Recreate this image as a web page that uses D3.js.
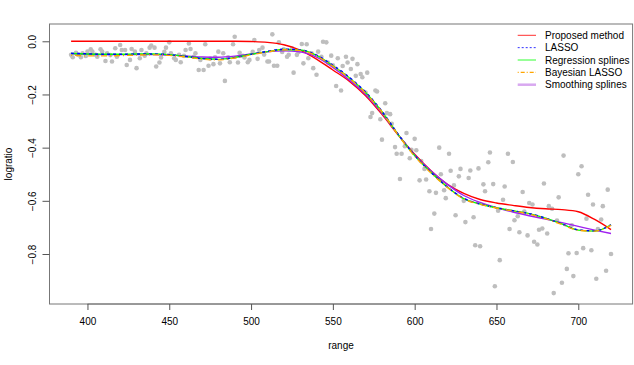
<!DOCTYPE html>
<html>
<head>
<meta charset="utf-8">
<script src="https://cdn.jsdelivr.net/npm/d3@7"></script>
<style>
  html, body { margin: 0; padding: 0; background: #fff; }
  svg { display: block; }
  text { font-family: "Liberation Sans", Arial, Helvetica, sans-serif; fill: #000; }
</style>
</head>
<body>
<svg id="chart" width="634" height="365"></svg>
<script>
// ---- data ----
const rangeVals = [390,391,393,394,396,397,399,400,402,403,405,406,408,409,411,412,414,415,417,418,
420,421,423,424,426,427,429,430,432,433,435,436,438,439,441,442,444,445,447,448,
450,451,453,454,456,457,459,460,462,463,465,466,468,469,471,472,474,475,477,478,
480,481,483,484,486,487,489,490,492,493,495,496,498,499,501,502,504,505,507,508,
510,511,513,514,516,517,519,520,522,523,525,526,528,529,531,532,534,535,537,538,
540,541,543,544,546,547,549,550,552,553,555,556,558,559,561,562,564,565,567,568,
570,571,573,574,576,577,579,580,582,583,585,586,588,589,591,592,594,595,597,598,
600,601,603,604,606,607,609,610,612,613,615,616,618,619,621,622,624,625,627,628,
630,631,633,634,636,637,639,640,642,643,645,646,648,649,651,652,654,655,657,658,
660,661,663,664,666,667,669,670,672,673,675,676,678,679,681,682,684,685,687,688,
690,691,693,694,696,697,699,700,702,703,705,706,708,709,711,712,714,715,717,718,720];
const logratioVals = [-0.051,-0.060,-0.043,-0.050,-0.060,-0.045,-0.055,-0.039,-0.030,-0.039,-0.051,-0.058,-0.030,-0.039,-0.074,-0.045,-0.052,-0.076,-0.026,-0.058,
-0.014,-0.033,-0.033,-0.089,-0.070,-0.029,-0.039,-0.101,-0.064,-0.033,-0.054,-0.045,-0.024,-0.016,-0.024,-0.095,-0.080,-0.061,-0.040,-0.024,
-0.004,-0.045,-0.064,-0.070,-0.051,-0.079,-0.055,-0.033,-0.008,-0.029,-0.058,-0.045,-0.108,-0.070,-0.108,-0.011,-0.092,-0.065,-0.086,-0.060,
-0.039,-0.083,-0.045,-0.149,-0.060,-0.079,-0.011,0.017,-0.080,-0.043,-0.055,-0.061,-0.079,-0.070,-0.040,0.005,-0.066,-0.033,-0.024,-0.050,
-0.076,-0.076,0.026,-0.092,-0.092,-0.004,-0.040,-0.030,-0.058,-0.051,-0.026,-0.118,-0.051,-0.040,-0.010,-0.083,-0.011,-0.064,-0.045,-0.101,
-0.126,-0.039,-0.058,-0.002,-0.004,-0.080,-0.054,-0.090,-0.168,-0.064,-0.185,-0.093,-0.058,-0.080,-0.104,-0.066,-0.130,-0.086,-0.123,-0.135,
-0.193,-0.118,-0.285,-0.270,-0.185,-0.189,-0.293,-0.370,-0.233,-0.270,-0.274,-0.310,-0.398,-0.423,-0.518,-0.423,-0.395,-0.345,-0.440,-0.408,
-0.367,-0.410,-0.523,-0.450,-0.480,-0.520,-0.564,-0.706,-0.648,-0.570,-0.400,-0.500,-0.560,-0.590,-0.423,-0.487,-0.542,-0.654,-0.508,-0.480,
-0.600,-0.680,-0.514,-0.486,-0.662,-0.767,-0.478,-0.771,-0.538,-0.564,-0.455,-0.418,-0.537,-0.921,-0.637,-0.823,-0.596,-0.546,-0.423,-0.706,
-0.454,-0.673,-0.658,-0.718,-0.567,-0.640,-0.730,-0.608,-0.614,-0.754,-0.764,-0.709,-0.704,-0.535,-0.723,-0.620,-0.630,-0.947,-0.674,-0.587,
-0.908,-0.430,-0.856,-0.797,-0.692,-0.883,-0.796,-0.500,-0.470,-0.778,-0.667,-0.577,-0.786,-0.614,-0.893,-0.706,-0.670,-0.620,-0.863,-0.558,-0.800];

// fitted curves, read at every 10 units of range
const fitRange = [390,400,410,420,430,440,450,460,470,480,490,500,510,520,530,540,550,560,570,580,590,600,610,620,630,640,650,660,670,680,690,700,710,720];
const proposedFit = [0,0,0,0,0,0,0,0,0,0,0,-0.001,-0.004,-0.013,-0.033,-0.067,-0.108,-0.150,-0.205,-0.275,-0.353,-0.425,-0.487,-0.538,-0.572,-0.595,-0.608,-0.617,-0.625,-0.630,-0.633,-0.641,-0.670,-0.708];
const lassoFit = [-0.045,-0.047,-0.049,-0.049,-0.048,-0.048,-0.050,-0.057,-0.065,-0.068,-0.061,-0.049,-0.038,-0.030,-0.032,-0.052,-0.090,-0.135,-0.191,-0.263,-0.350,-0.429,-0.493,-0.548,-0.591,-0.612,-0.626,-0.637,-0.648,-0.665,-0.687,-0.709,-0.713,-0.690];
const regSplineFit = [-0.046,-0.048,-0.049,-0.049,-0.048,-0.048,-0.050,-0.057,-0.065,-0.068,-0.061,-0.049,-0.039,-0.031,-0.033,-0.053,-0.092,-0.137,-0.193,-0.265,-0.352,-0.430,-0.493,-0.548,-0.592,-0.612,-0.626,-0.637,-0.648,-0.665,-0.687,-0.710,-0.714,-0.690];
const bayesLassoFit = [-0.052,-0.055,-0.055,-0.054,-0.052,-0.051,-0.053,-0.059,-0.067,-0.070,-0.063,-0.051,-0.040,-0.032,-0.034,-0.055,-0.094,-0.139,-0.195,-0.266,-0.353,-0.432,-0.495,-0.550,-0.593,-0.613,-0.627,-0.638,-0.650,-0.667,-0.689,-0.711,-0.714,-0.692];
const smoothSplineFit = [-0.047,-0.049,-0.050,-0.050,-0.050,-0.050,-0.052,-0.055,-0.059,-0.060,-0.056,-0.048,-0.040,-0.036,-0.040,-0.060,-0.098,-0.145,-0.200,-0.270,-0.352,-0.428,-0.488,-0.538,-0.580,-0.606,-0.626,-0.642,-0.656,-0.669,-0.682,-0.696,-0.710,-0.723];

const xTicks = [400,450,500,550,600,650,700];
const yTicks = [0.0,-0.2,-0.4,-0.6,-0.8];
const seriesNames = ["Proposed method","LASSO","Regression splines","Bayesian LASSO","Smoothing splines"];

// ---- drawing ----
const svg = d3.select("#chart");
const x = d3.scaleLinear().domain([376.8, 733.2]).range([49.5, 632.6]);
const y = d3.scaleLinear().domain([-0.988, 0.065]).range([304, 24]);

// points
svg.append("g").selectAll("circle")
  .data(rangeVals.map((r,i)=>[r, logratioVals[i]]))
  .join("circle")
  .attr("cx", d=>x(d[0])).attr("cy", d=>y(d[1]))
  .attr("r", 2.3).attr("fill", "#bebebe");

const styles = [
  {data: proposedFit,    color: "#ff0000", dash: null,      w: 1.4},
  {data: smoothSplineFit,color: "#a020f0", dash: null,      w: 1.4},
  {data: regSplineFit,   color: "#00ff00", dash: null,      w: 1.4},
  {data: lassoFit,       color: "#0000ff", dash: "3,3",     w: 1.4},
  {data: bayesLassoFit,  color: "#ffa500", dash: "1,3,6,3", w: 1.4}
];
const line = d3.line().x(d=>x(d[0])).y(d=>y(d[1])).curve(d3.curveMonotoneX);
styles.forEach(s => {
  svg.append("path")
    .attr("d", line(fitRange.map((r,i)=>[r, s.data[i]])))
    .attr("fill", "none").attr("stroke", s.color)
    .attr("stroke-width", s.w)
    .attr("stroke-dasharray", s.dash);
});

// box
svg.append("rect").attr("x", 49.5).attr("y", 24).attr("width", 632.6-49.5).attr("height", 280)
  .attr("fill", "none").attr("stroke", "#777").attr("stroke-width", 1);

// axes
const xAxis = d3.axisBottom(x).tickValues(xTicks).tickSize(6).tickPadding(8).tickFormat(d3.format("d"));
const gx = svg.append("g").attr("transform", "translate(0,304)").call(xAxis);
gx.select(".domain").attr("d", `M${x(400)},0H${x(700)}`).attr("stroke", "#777");
gx.selectAll(".tick line").attr("stroke", "#555");
gx.selectAll("text").attr("font-size", 10).attr("font-family", "Liberation Sans, Arial, sans-serif").attr("fill", "#000");

const yAxis = d3.axisLeft(y).tickValues(yTicks).tickSize(7).tickFormat(d3.format(".1f"));
const gy = svg.append("g").attr("transform", "translate(49.5,0)").call(yAxis);
gy.select(".domain").attr("d", `M0,${y(0)}V${y(-0.8)}`).attr("stroke", "#777");
gy.selectAll(".tick line").attr("stroke", "#555");
gy.selectAll(".tick text")
  .attr("x", null).attr("dy", null)
  .attr("text-anchor", "middle")
  .attr("transform", "translate(-14,0) rotate(-90)")
  .attr("font-size", 10).attr("font-family", "Liberation Sans, Arial, sans-serif").attr("fill", "#000");

// axis titles
svg.append("text").attr("x", 341).attr("y", 349).attr("text-anchor", "middle").attr("font-size", 10).text("range");
svg.append("text").attr("transform", "translate(12,164) rotate(-90)").attr("text-anchor", "middle").attr("font-size", 10).text("logratio");

// legend
const legendStyles = [
  {color: "#ff3030", dash: null, w: 1},
  {color: "#3030ff", dash: "2,2", w: 1},
  {color: "#30ff30", dash: null, w: 1},
  {color: "#ffa500", dash: "1,2,4,2", w: 1.2},
  {color: "#d8a8f0", dash: null, w: 2.5}
];
const lg = svg.append("g");
seriesNames.forEach((name, i) => {
  const yy = 35.3 + i * 12.35;
  lg.append("line").attr("x1", 517.7).attr("x2", 536).attr("y1", yy).attr("y2", yy)
    .attr("stroke", legendStyles[i].color).attr("stroke-width", legendStyles[i].w)
    .attr("stroke-dasharray", legendStyles[i].dash);
  lg.append("text").attr("x", 545).attr("y", yy).attr("dy", "0.35em").attr("font-size", 10).text(name);
});
</script>
</body>
</html>
